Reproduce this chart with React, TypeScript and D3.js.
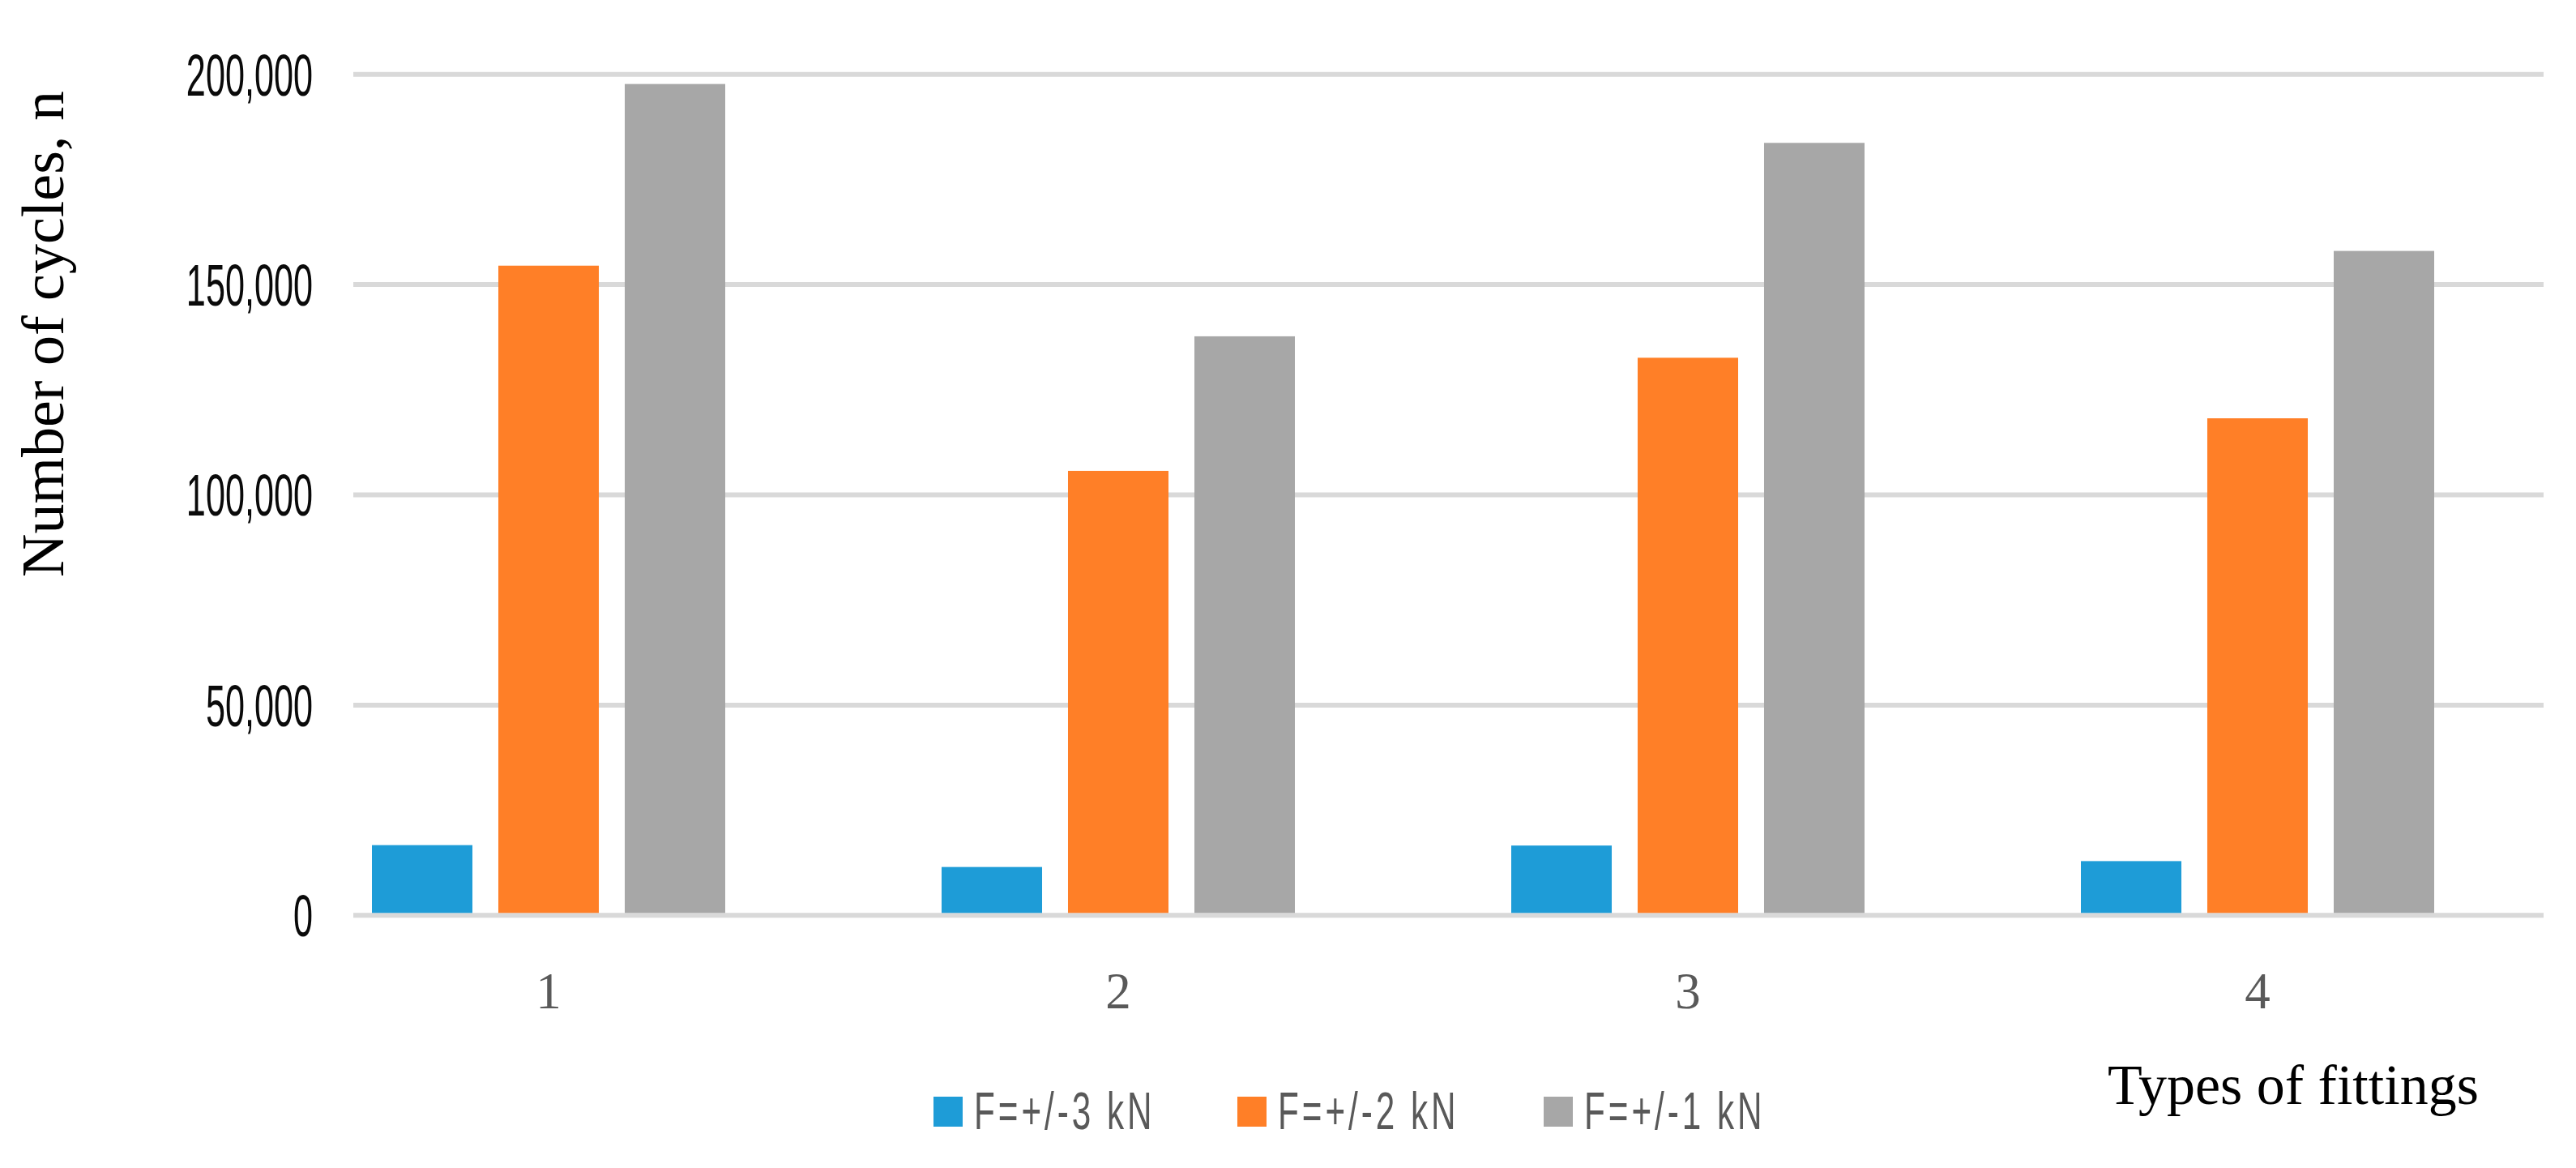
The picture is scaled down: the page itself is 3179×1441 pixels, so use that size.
import React from "react";
import * as d3 from "d3";

const categories = ["1", "2", "3", "4"];
const seriesNames = ["F=+/-3 kN", "F=+/-2 kN", "F=+/-1 kN"];
const seriesColors = ["#1e9cd7", "#ff7f27", "#a7a7a7"];
const f3kN = [16700, 11500, 16600, 12900];
const f2kN = [154500, 105700, 132600, 118200];
const f1kN = [197700, 137700, 183700, 158000];
const yTicks = [0, 50000, 100000, 150000, 200000];

const W = 3179;
const H = 1441;

export default function App() {
  const seriesValues = [f3kN, f2kN, f1kN];
  const y = d3.scaleLinear().domain([0, 200000]).range([1129.3, 91.7]);
  const x0 = d3.scaleBand<string>().domain(categories).range([325.5, 3137.5]).paddingInner(0).paddingOuter(0);
  const bw = x0.bandwidth();
  const groupW = 436;
  const x1 = d3
    .scaleBand<string>()
    .domain(seriesNames)
    .range([(bw - groupW) / 2, (bw + groupW) / 2])
    .paddingInner(0.205)
    .paddingOuter(0);
  const gridX0 = 436;
  const gridX1 = 3139;
  const fmt = d3.format(",");
  const sans = "'Liberation Sans', Arial, sans-serif";
  const serif = "'Liberation Serif', 'Times New Roman', serif";
  const sx = 0.6;

  const legendX = [1152, 1527, 1905];

  return (
    <svg
      width={W}
      height={H}
      viewBox={`0 0 ${W} ${H}`}
      style={{ position: "absolute", left: 0, top: 0, background: "#fff" }}
    >
      <rect x={0} y={0} width={W} height={H} fill="#fff" />
      {yTicks.map((t) => (
        <g key={t}>
          <line x1={gridX0} x2={gridX1} y1={y(t)} y2={y(t)} stroke="#d9d9d9" strokeWidth={6} />
          <g transform={`translate(386,${y(t)}) scale(${sx},1)`}>
            <text
              x={0}
              y={0}
              dy="0.36em"
              textAnchor="end"
              fontFamily={sans}
              fontSize={72}
              fill="#0a0a0a"
            >
              {fmt(t)}
            </text>
          </g>
        </g>
      ))}
      {categories.map((c, ci) => (
        <g key={c} transform={`translate(${x0(c)},0)`}>
          {seriesNames.map((s, si) => {
            const v = seriesValues[si][ci];
            return (
              <rect
                key={s}
                x={x1(s)}
                y={y(v)}
                width={x1.bandwidth()}
                height={y(0) - y(v) - 3}
                fill={seriesColors[si]}
              />
            );
          })}
          <text
            x={bw / 2}
            y={1244}
            textAnchor="middle"
            fontFamily={serif}
            fontSize={63}
            fill="#595959"
          >
            {c}
          </text>
        </g>
      ))}
      <text
        transform={`translate(78,412) rotate(-90)`}
        textAnchor="middle"
        fontFamily={serif}
        fontSize={74}
        fill="#000"
      >
        Number of cycles, n
      </text>
      <text x={2830} y={1362} textAnchor="middle" fontFamily={serif} fontSize={70} fill="#000">
        Types of fittings
      </text>
      {seriesNames.map((s, i) => (
        <g key={s} transform={`translate(${legendX[i]},1353)`}>
          <rect x={0} y={0} width={36} height={37} fill={seriesColors[i]} />
          <g transform={`translate(50,40) scale(0.66,1)`}>
            <text
              x={0}
              y={0}
              fontFamily={sans}
              fontSize={64}
              letterSpacing={6}
              fill="#595959"
            >
              {s}
            </text>
          </g>
        </g>
      ))}
    </svg>
  );
}
